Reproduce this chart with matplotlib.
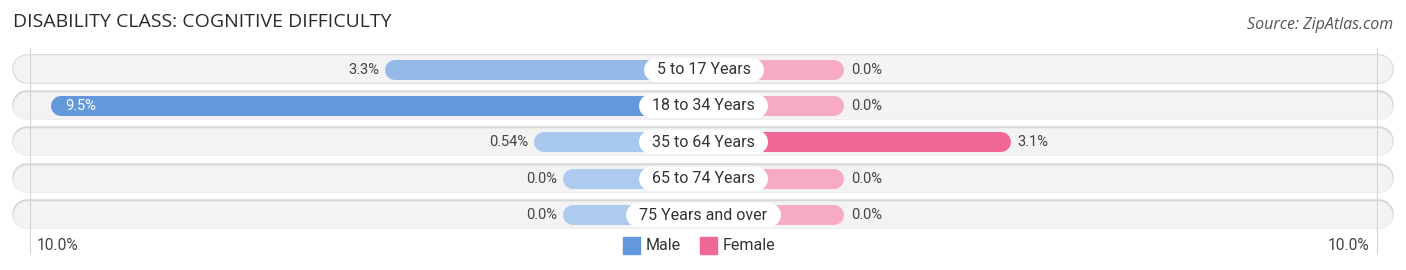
import matplotlib.pyplot as plt
import matplotlib.colors as mcolors
import numpy as np

# data
groups = ["5 to 17 Years", "18 to 34 Years", "35 to 64 Years", "65 to 74 Years", "75 Years and over"]
male = [3.3, 9.5, 0.54, 0.0, 0.0]
female = [0.0, 0.0, 3.1, 0.0, 0.0]
male_lbl = ["3.3%", "9.5%", "0.54%", "0.0%", "0.0%"]
female_lbl = ["0.0%", "0.0%", "3.1%", "0.0%", "0.0%"]

W, H = 1406, 270
S = 53.9          # px per percent
OFF = 2.6         # hidden part of each bar under the label
CX = 703.5        # centre in px

male_dark, male_light = np.array(mcolors.to_rgb("#6498dc")), np.array(mcolors.to_rgb("#adcbee"))
fem_dark, fem_light = np.array(mcolors.to_rgb("#f06893")), np.array(mcolors.to_rgb("#f7aac5"))

plt.rcParams['font.family'] = ['Roboto', 'DejaVu Sans']

fig = plt.figure(figsize=(W / 100, H / 100), dpi=100)
ax = fig.add_axes([0, 0, 1, 1])
ax.set_xlim(-CX / S, (W - CX) / S)
ax.set_ylim(H, 0)
ax.axis('off')

px = 72 / 100  # points per pixel
r = 10 / S     # bar cap radius in data units

def row_y(i):
    return 68.5 + 36.4 * i

# faint gridlines at the 10% marks
grid_x = 673.5 / S
for sgn in (-1, 1):
    ax.plot([sgn * grid_x] * 2, [48, 254], color="#d4d4d4", lw=0.8, zorder=3)

bg_l, bg_r = (12 - CX) / S, (1393 - CX) / S
rb = 14.5 / S
fig.canvas.draw()
rend = fig.canvas.get_renderer()
for i, g in enumerate(groups):
    y = row_y(i)
    ax.plot([bg_l + rb, bg_r - rb], [y, y], color="#d6d6d6", lw=29.5 * px,
            solid_capstyle='round', zorder=1)
    ax.plot([bg_l + rb, bg_r - rb], [y + 0.8, y + 0.8], color="#f3f3f3", lw=27.5 * px,
            solid_capstyle='round', zorder=1)

    mv, fv = male[i], female[i]
    mc = male_light + (male_dark - male_light) * mv / max(male)
    fc = fem_light + (fem_dark - fem_light) * fv / max(female)
    ax.plot([-(OFF + mv) + r, -r], [y + 1, y + 1], color=mc, lw=20 * px,
            solid_capstyle='round', zorder=2)
    ax.plot([r, OFF + fv - r], [y + 1, y + 1], color=fc, lw=20 * px,
            solid_capstyle='round', zorder=2)

    if mv > 6:
        ax.text(-(OFF + mv) + 14 / S, y + 1, male_lbl[i], ha='left', va='center',
                fontsize=10.5, color='white', zorder=4)
    else:
        ax.text(-(OFF + mv) - 6 / S, y + 1, male_lbl[i], ha='right', va='center',
                fontsize=10.5, color='#444444', zorder=4)
    ax.text(OFF + fv + 7 / S, y + 1, female_lbl[i], ha='left', va='center',
            fontsize=10.5, color='#444444', zorder=4)

    t = ax.text(0, y + 1, g, ha='center', va='center', fontsize=11.5, color='#333333', zorder=6)
    tw = t.get_window_extent(rend).width
    half = (tw / 2 + 13 - 12) / S
    ax.plot([-half, half], [y + 1, y + 1], color='white', lw=24 * px,
            solid_capstyle='round', zorder=5)

ax.text((13 - CX) / S, 22, "DISABILITY CLASS: COGNITIVE DIFFICULTY", ha='left', va='center',
        fontsize=14, color='#2b2b2b', family=['Open Sans', 'DejaVu Sans'])
ax.text((1393 - CX) / S, 25, "Source: ZipAtlas.com", ha='right', va='center',
        fontsize=11.5, color='#555555', style='italic', family=['Open Sans', 'DejaVu Sans'])

ax.text(-grid_x + 7 / S, 245, "10.0%", ha='left', va='center', fontsize=11.2, color='#444444')
ax.text(grid_x - 8 / S, 245, "10.0%", ha='right', va='center', fontsize=11.2, color='#444444')

# legend
for xs, lab, col in [((623 - CX) / S, "Male", male_dark), ((700 - CX) / S, "Female", fem_dark)]:
    ax.add_patch(plt.Rectangle((xs, 236.5), 17 / S, 17, color=col, zorder=3))
    ax.text(xs + 23 / S, 245, lab, ha='left', va='center', fontsize=11.5, color='#333333')

fig.savefig("out.png", dpi=100)
